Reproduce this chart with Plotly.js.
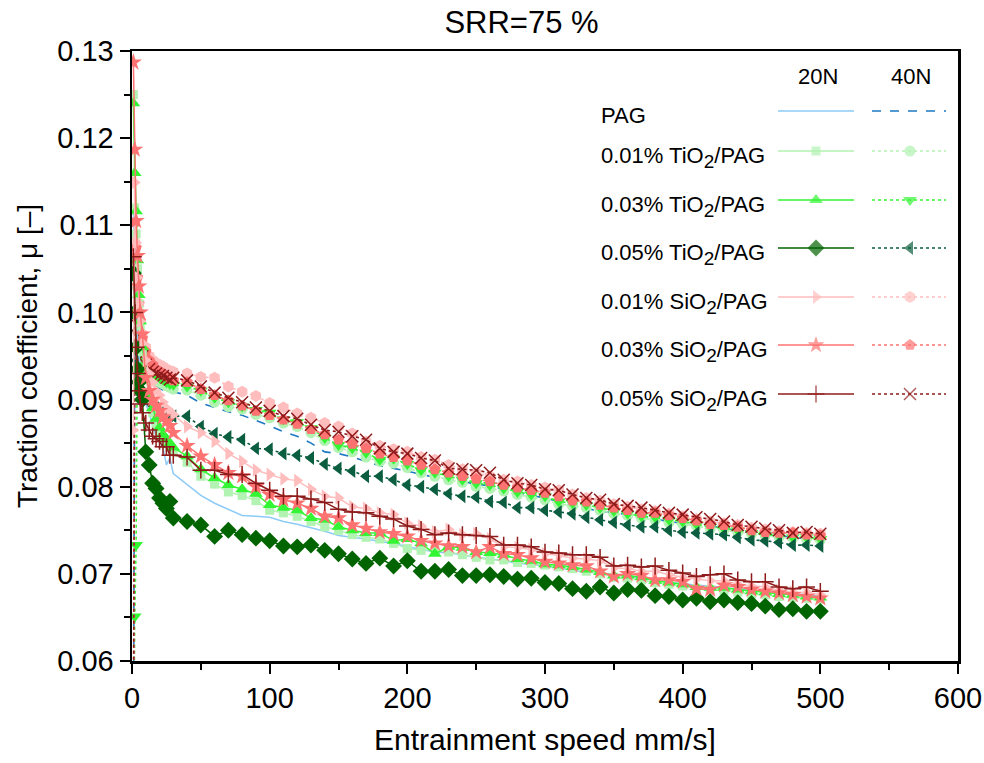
<!DOCTYPE html>
<html>
<head>
<meta charset="utf-8">
<script src="https://cdn.plot.ly/plotly-3.0.1.min.js"></script>
<style>html,body{margin:0;padding:0;background:#fff;}#chart{width:984px;height:763px;}</style>
</head>
<body>
<div id="chart"></div>
<script>
// Entrainment speed (mm/s)
const SPEED = [1,2,3,4,5,6,7.5,10,12.5,15,17.5,20,22.5,25,27.5,30,
  40,50,60,70,80,90,100,110,120,130,140,150,160,170,180,190,200,210,220,230,240,250,260,270,280,290,300,
  310,320,330,340,350,360,370,380,390,400,410,420,430,440,450,460,470,480,490,500];

const PAG_20N = [0.1120,0.1050,0.1000,0.0970,0.0950,0.0930,0.0910,0.0895,0.0885,0.0870,0.0858,0.0852,0.0845,0.0825,0.0833,0.0815,
  0.0803,0.0790,0.0781,0.0774,0.0767,0.0766,0.0765,0.0760,0.0757,0.0753,0.0749,0.0744,0.0742,0.0740,0.0737,0.0735,0.0731,0.0728,0.0725,0.0724,0.0722,0.0719,0.0717,0.0715,0.0712,0.0711,0.0709,0.0707,0.0704,0.0702,0.0701,0.0699,0.0697,0.0695,0.0693,0.0690,0.0689,0.0687,0.0686,0.0684,0.0683,0.0681,0.0680,0.0678,0.0677,0.0676,0.0675];
const PAG_40N = [0.045,0.1000,0.0980,0.0965,0.0955,0.0945,0.0935,0.0928,0.0922,0.0918,0.0915,0.0913,0.0911,0.0910,0.0909,0.0909,
  0.0905,0.0896,0.0891,0.0886,0.0882,0.0876,0.0870,0.0863,0.0858,0.0850,0.0840,0.0838,0.0834,0.0829,0.0824,0.0821,0.0818,0.0814,0.0811,0.0808,0.0806,0.0803,0.0801,0.0797,0.0793,0.0790,0.0787,0.0783,0.0778,0.0775,0.0772,0.0770,0.0768,0.0766,0.0763,0.0760,0.0758,0.0756,0.0755,0.0752,0.0750,0.0748,0.0746,0.0744,0.0742,0.0740,0.0739];
const TI1_20N = [0.1250,0.1120,0.1090,0.1050,0.1010,0.0985,0.0955,0.0925,0.0900,0.0885,0.0872,0.0862,0.0855,0.0850,0.0845,0.0840,
  0.0828,0.0812,0.0803,0.0794,0.0790,0.0784,0.0773,0.0770,0.0766,0.0760,0.0754,0.0750,0.0745,0.0742,0.0740,0.0735,0.0729,0.0727,0.0728,0.0725,0.0722,0.0719,0.0716,0.0716,0.0713,0.0712,0.0710,0.0708,0.0706,0.0703,0.0700,0.0696,0.0695,0.0693,0.0690,0.0688,0.0686,0.0683,0.0682,0.0681,0.0679,0.0677,0.0676,0.0674,0.0673,0.0672,0.0671];
const TI1_40N = [0.045,0.1060,0.1030,0.0995,0.0970,0.0955,0.0945,0.0935,0.0930,0.0925,0.0922,0.0920,0.0918,0.0916,0.0914,0.0912,
  0.0911,0.0905,0.0897,0.0892,0.0889,0.0883,0.0879,0.0873,0.0869,0.0862,0.0853,0.0845,0.0840,0.0834,0.0829,0.0827,0.0822,0.0816,0.0812,0.0808,0.0805,0.0800,0.0798,0.0795,0.0791,0.0788,0.0785,0.0780,0.0778,0.0776,0.0773,0.0769,0.0767,0.0764,0.0762,0.0759,0.0757,0.0755,0.0752,0.0750,0.0748,0.0746,0.0744,0.0742,0.0741,0.0740,0.0739];
const TI3_20N = [0.1240,0.1160,0.1116,0.1060,0.1020,0.0990,0.0960,0.0930,0.0905,0.0890,0.0878,0.0868,0.0860,0.0855,0.0850,0.0845,
  0.0835,0.0820,0.0810,0.0802,0.0797,0.0792,0.0779,0.0776,0.0773,0.0764,0.0762,0.0754,0.0750,0.0747,0.0747,0.0738,0.0740,0.0735,0.0723,0.0731,0.0730,0.0725,0.0724,0.0722,0.0717,0.0715,0.0711,0.0710,0.0708,0.0705,0.0702,0.0698,0.0698,0.0696,0.0692,0.0690,0.0688,0.0685,0.0684,0.0684,0.0682,0.0680,0.0679,0.0677,0.0676,0.0674,0.0673];
const TI3_40N = [0.045,0.0651,0.0733,0.1000,0.0975,0.0960,0.0950,0.0940,0.0935,0.0930,0.0928,0.0925,0.0923,0.0920,0.0918,0.0917,
  0.0915,0.0910,0.0902,0.0897,0.0892,0.0888,0.0885,0.0877,0.0874,0.0867,0.0856,0.0848,0.0844,0.0839,0.0831,0.0832,0.0826,0.0819,0.0816,0.0812,0.0808,0.0804,0.0802,0.0798,0.0794,0.0791,0.0789,0.0783,0.0781,0.0779,0.0776,0.0772,0.0769,0.0766,0.0765,0.0762,0.0760,0.0757,0.0754,0.0752,0.0750,0.0747,0.0745,0.0744,0.0742,0.0742,0.0740];
const TI5_20N = [0.1045,0.1000,0.0960,0.0935,0.0920,0.0910,0.0900,0.0840,0.0825,0.0804,0.0798,0.0787,0.0781,0.0775,0.0783,0.0764,
  0.0760,0.0756,0.0743,0.0750,0.0745,0.0741,0.0738,0.0732,0.0731,0.0733,0.0727,0.0723,0.0717,0.0712,0.0718,0.0709,0.0715,0.0703,0.0703,0.0705,0.0698,0.0698,0.0699,0.0697,0.0694,0.0695,0.0690,0.0689,0.0683,0.0680,0.0685,0.0678,0.0682,0.0681,0.0675,0.0674,0.0670,0.0672,0.0668,0.0670,0.0667,0.0666,0.0663,0.0659,0.0660,0.0657,0.0657];
const TI5_40N = [0.045,0.0960,0.0945,0.0935,0.0925,0.0915,0.0905,0.0900,0.0897,0.0893,0.0890,0.0888,0.0886,0.0884,0.0882,0.0881,
  0.0881,0.0869,0.0861,0.0857,0.0854,0.0844,0.0843,0.0838,0.0836,0.0833,0.0826,0.0821,0.0818,0.0812,0.0812,0.0808,0.0802,0.0800,0.0797,0.0792,0.0789,0.0788,0.0783,0.0782,0.0776,0.0776,0.0773,0.0771,0.0769,0.0765,0.0762,0.0759,0.0756,0.0754,0.0754,0.0750,0.0748,0.0747,0.0746,0.0745,0.0742,0.0739,0.0738,0.0736,0.0733,0.0733,0.0732];
const SI1_20N = [0.0865,0.1149,0.1080,0.1040,0.1010,0.0990,0.0965,0.0945,0.0930,0.0920,0.0910,0.0905,0.0897,0.0890,0.0887,0.0883,
  0.0869,0.0862,0.0852,0.0838,0.0829,0.0819,0.0814,0.0809,0.0807,0.0797,0.0789,0.0787,0.0777,0.0775,0.0770,0.0768,0.0758,0.0755,0.0748,0.0751,0.0745,0.0746,0.0740,0.0731,0.0730,0.0728,0.0723,0.0721,0.0718,0.0717,0.0715,0.0707,0.0706,0.0703,0.0703,0.0699,0.0696,0.0694,0.0692,0.0692,0.0688,0.0686,0.0685,0.0681,0.0679,0.0679,0.0676];
const SI1_40N = [0.045,0.1080,0.1050,0.1030,0.1010,0.0990,0.0975,0.0960,0.0950,0.0945,0.0942,0.0940,0.0938,0.0935,0.0933,0.0932,
  0.0930,0.0926,0.0925,0.0915,0.0909,0.0904,0.0896,0.0891,0.0884,0.0879,0.0873,0.0869,0.0861,0.0852,0.0847,0.0843,0.0840,0.0834,0.0831,0.0825,0.0820,0.0816,0.0812,0.0808,0.0806,0.0802,0.0799,0.0796,0.0791,0.0787,0.0784,0.0780,0.0777,0.0774,0.0772,0.0769,0.0766,0.0763,0.0760,0.0758,0.0756,0.0753,0.0751,0.0749,0.0748,0.0747,0.0746];
const SI3_20N = [0.1287,0.1187,0.1105,0.1065,0.1030,0.1000,0.0975,0.0925,0.0910,0.0900,0.0893,0.0887,0.0880,0.0875,0.0870,0.0862,
  0.0847,0.0835,0.0825,0.0816,0.0812,0.0800,0.0791,0.0785,0.0781,0.0775,0.0766,0.0764,0.0756,0.0752,0.0748,0.0746,0.0743,0.0738,0.0735,0.0732,0.0731,0.0725,0.0731,0.0723,0.0722,0.0718,0.0714,0.0712,0.0710,0.0709,0.0703,0.0697,0.0700,0.0698,0.0693,0.0693,0.0691,0.0683,0.0682,0.0687,0.0685,0.0682,0.0680,0.0678,0.0676,0.0674,0.0672];
const SI3_40N = [0.045,0.1104,0.1074,0.1040,0.1010,0.0990,0.0970,0.0955,0.0945,0.0940,0.0935,0.0932,0.0930,0.0927,0.0925,0.0922,
  0.0920,0.0912,0.0905,0.0899,0.0893,0.0887,0.0882,0.0877,0.0872,0.0866,0.0860,0.0854,0.0849,0.0844,0.0838,0.0834,0.0830,0.0825,0.0820,0.0816,0.0812,0.0809,0.0806,0.0802,0.0799,0.0796,0.0793,0.0789,0.0784,0.0783,0.0779,0.0776,0.0773,0.0770,0.0770,0.0767,0.0764,0.0761,0.0757,0.0756,0.0754,0.0750,0.0748,0.0747,0.0747,0.0745,0.0744];
const SI5_20N = [0.1064,0.1000,0.0960,0.0930,0.0910,0.0895,0.0885,0.0873,0.0865,0.0858,0.0855,0.0852,0.0846,0.0846,0.0836,0.0836,
  0.0834,0.0819,0.0819,0.0814,0.0814,0.0804,0.0796,0.0789,0.0789,0.0786,0.0782,0.0774,0.0771,0.0770,0.0766,0.0763,0.0755,0.0751,0.0745,0.0747,0.0745,0.0744,0.0743,0.0733,0.0733,0.0731,0.0725,0.0724,0.0722,0.0722,0.0719,0.0709,0.0710,0.0708,0.0709,0.0704,0.0701,0.0697,0.0699,0.0700,0.0693,0.0691,0.0691,0.0685,0.0683,0.0685,0.0680];
const SI5_40N = [0.045,0.1040,0.1000,0.0985,0.0970,0.0960,0.0950,0.0940,0.0935,0.0932,0.0930,0.0928,0.0927,0.0925,0.0923,0.0925,
  0.0922,0.0915,0.0908,0.0902,0.0897,0.0891,0.0887,0.0881,0.0878,0.0871,0.0865,0.0863,0.0858,0.0854,0.0844,0.0840,0.0838,0.0833,0.0830,0.0821,0.0820,0.0819,0.0816,0.0808,0.0804,0.0802,0.0797,0.0796,0.0791,0.0787,0.0785,0.0780,0.0778,0.0776,0.0773,0.0770,0.0768,0.0765,0.0763,0.0760,0.0756,0.0754,0.0752,0.0750,0.0747,0.0748,0.0746];

const SUB2 = '<sub><span style="font-size:19px">2</span></sub>';
const LABELS = ['PAG','0.01% TiO'+SUB2+'/PAG','0.03% TiO'+SUB2+'/PAG','0.05% TiO'+SUB2+'/PAG',
  '0.01% SiO'+SUB2+'/PAG','0.03% SiO'+SUB2+'/PAG','0.05% SiO'+SUB2+'/PAG'];
const LOADS = ['20N','40N'];

const STYLES = [
  [{c:'#8DCBF7', s:'circle', sz:0, dash:'solid', w:1.5}, {c:'#1E78C2', s:'circle', sz:0, dash:'dash', w:1.6}],
  [{c:'#B2F2B2', s:'square', sz:9, dash:'solid', w:1.5}, {c:'#B2F2B2', s:'circle', sz:11, dash:'dot', w:1.6}],
  [{c:'#33F533', s:'triangle-up', sz:12, dash:'solid', w:1.5}, {c:'#33F533', s:'triangle-down', sz:12, dash:'dot', w:1.6}],
  [{c:'#006400', s:'diamond', sz:13, dash:'solid', w:1.5}, {c:'#0B5E3F', s:'triangle-left', sz:12, dash:'dot', w:1.6}],
  [{c:'#FFBDBD', s:'triangle-right', sz:12, dash:'solid', w:1.5}, {c:'#FFBDBD', s:'hexagon', sz:12, dash:'dot', w:1.6}],
  [{c:'#FF7272', s:'star', sz:13, dash:'solid', w:1.5}, {c:'#FF7272', s:'pentagon', sz:12, dash:'dot', w:1.6}],
  [{c:'#8E1B1B', s:'cross-thin-open', sz:12, dash:'solid', w:1.5}, {c:'#8E1B1B', s:'x-thin-open', sz:12, dash:'dot', w:1.6}]
];
const SERIES = [[PAG_20N, PAG_40N],[TI1_20N, TI1_40N],[TI3_20N, TI3_40N],[TI5_20N, TI5_40N],
  [SI1_20N, SI1_40N],[SI3_20N, SI3_40N],[SI5_20N, SI5_40N]];

const traces = [];
const order = [];
for (let k = 0; k < 7; k++) order.push([k,1]);
for (let k = 0; k < 7; k++) order.push([k,0]);
order.forEach(([k,j]) => {
  const st = STYLES[k][j];
  const hasMarker = st.sz > 0;
  traces.push({
    x: SPEED, y: SERIES[k][j], type:'scatter',
    mode: hasMarker ? 'lines+markers' : 'lines',
    name: 'series ' + k + ' ' + LOADS[j],
    line: {color: st.c, width: st.w, dash: st.dash},
    marker: {symbol: st.s, size: st.sz, color: st.c, line: {color: st.c, width: st.s.indexOf('thin')>=0 ? 1.5 : 0}},
    showlegend:false, hoverinfo:'skip'
  });
});

const FONT = 'Liberation Sans, Arial, sans-serif';
// custom legend on hidden pixel-space axes
const LEG_ROWS = [111,151,200,248,297,345,394];
const LEG_X20 = [778,816,854];
const LEG_X40 = [872,910,946];
const annotations = [];
LEG_ROWS.forEach((py,k) => {
  [LEG_X20, LEG_X40].forEach((xs,j) => {
    const st = STYLES[k][j];
    traces.push({
      x: xs, y:[py,py,py], xaxis:'x2', yaxis:'y2', type:'scatter',
      mode: st.sz>0 ? 'lines+markers':'lines',
      line:{color:st.c, width:st.w, dash:st.dash},
      marker:{symbol:st.s, size:[0,st.sz,0], color:st.c, line:{color:st.c, width: st.s.indexOf('thin')>=0 ? 1.5 : 0}},
      showlegend:false, hoverinfo:'skip', cliponaxis:false
    });
  });
  annotations.push({xref:'x2', yref:'y2', x:599, y:(k===0 ? py+4 : py+6), text:LABELS[k], showarrow:false,
    xanchor:'left', yanchor:'middle', font:{family:FONT, size:22, color:'#000'}});
});
annotations.push({xref:'x2', yref:'y2', x:818, y:76, text:LOADS[0], showarrow:false, xanchor:'center', yanchor:'middle',
  font:{family:FONT, size:22, color:'#000'}});
annotations.push({xref:'x2', yref:'y2', x:911, y:76, text:LOADS[1], showarrow:false, xanchor:'center', yanchor:'middle',
  font:{family:FONT, size:22, color:'#000'}});

const layout = {
  width:984, height:763,
  margin:{l:132, r:26, t:51, b:102, pad:0},
  paper_bgcolor:'#fff', plot_bgcolor:'#fff',
  font:{family:FONT, color:'#000'},
  title:{text:'SRR=75 %', font:{family:FONT, size:31, color:'#000'}, x:0.530, xref:'container', xanchor:'center', y:0.971, yref:'container', yanchor:'middle'},
  xaxis:{range:[0,600], tick0:0, dtick:100, ticks:'outside', ticklen:10, tickwidth:2, tickcolor:'#000',
    showline:true, linewidth:2.5, linecolor:'#000', mirror:true, showgrid:false, zeroline:false,
    minor:{dtick:50, ticks:'outside', ticklen:6, tickwidth:2, tickcolor:'#000', showgrid:false},
    tickfont:{family:FONT, size:29, color:'#000'},
    title:{text:'Entrainment speed mm/s]', font:{family:FONT, size:30, color:'#000'}, standoff:16}},
  yaxis:{range:[0.06,0.13], tick0:0.06, dtick:0.01, tickformat:'.2f', ticks:'outside', ticklen:10, tickwidth:2, tickcolor:'#000',
    showline:true, linewidth:2.5, linecolor:'#000', mirror:true, showgrid:false, zeroline:false,
    minor:{dtick:0.005, ticks:'outside', ticklen:6, tickwidth:2, tickcolor:'#000', showgrid:false},
    tickfont:{family:FONT, size:29, color:'#000'},
    title:{text:'Traction coefficient, μ [–]', font:{family:FONT, size:28, color:'#000'}, standoff:12}},
  xaxis2:{overlaying:'x', anchor:'y2', range:[132,958], visible:false, fixedrange:true},
  yaxis2:{overlaying:'y', anchor:'x2', range:[661,51], visible:false, fixedrange:true},
  annotations: annotations,
  showlegend:false
};
Plotly.newPlot('chart', traces, layout, {staticPlot:true, displayModeBar:false});
</script>
</body>
</html>
